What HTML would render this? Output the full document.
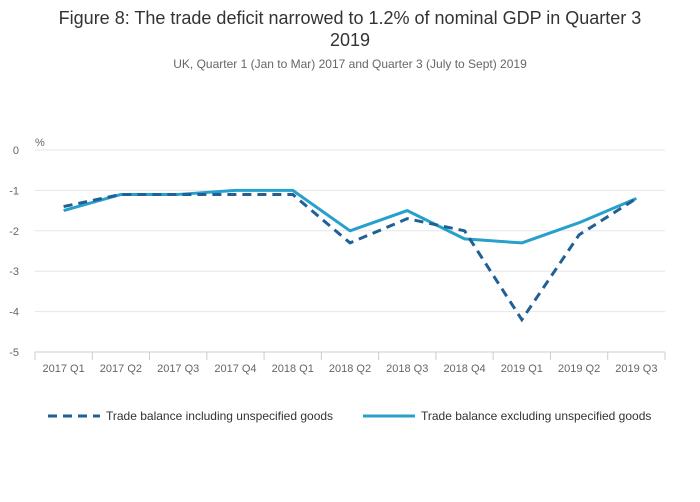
<!DOCTYPE html>
<html><head><meta charset="utf-8"><style>
body{margin:0;background:#fff;font-family:"Liberation Sans",sans-serif;}
svg{display:block}
</style></head><body>
<svg id="chart" width="700" height="502">
<text x="350" y="24" text-anchor="middle" font-size="18" fill="#333">Figure 8: The trade deficit narrowed to 1.2% of nominal GDP in Quarter 3</text>
<text x="350" y="46" text-anchor="middle" font-size="18" fill="#333">2019</text>
<text x="350" y="68" text-anchor="middle" font-size="12" fill="#666">UK, Quarter 1 (Jan to Mar) 2017 and Quarter 3 (July to Sept) 2019</text>
<text x="35" y="146" font-size="11" fill="#666">%</text>
<g id="grid"></g><g id="series"></g>
<g>
<line x1="48" y1="416" x2="100" y2="416" stroke="#206095" stroke-width="3" stroke-dasharray="9,6"/>
<text x="106" y="420" font-size="12" fill="#333">Trade balance including unspecified goods</text>
<line x1="363" y1="416" x2="415" y2="416" stroke="#27a0cc" stroke-width="3"/>
<text x="421" y="420" font-size="12" fill="#333">Trade balance excluding unspecified goods</text>
</g>
</svg>
<script>
const categories=["2017 Q1","2017 Q2","2017 Q3","2017 Q4","2018 Q1","2018 Q2","2018 Q3","2018 Q4","2019 Q1","2019 Q2","2019 Q3"];
const includingValues=[-1.4,-1.1,-1.1,-1.1,-1.1,-2.3,-1.7,-2.0,-4.2,-2.1,-1.2];
const excludingValues=[-1.5,-1.1,-1.1,-1.0,-1.0,-2.0,-1.5,-2.2,-2.3,-1.8,-1.2];
const yTicks=[0,-1,-2,-3,-4,-5];
const NS="http://www.w3.org/2000/svg";
const L=35,R=665,T=150,B=352;
const bw=(R-L)/categories.length;
const x=i=>L+bw*(i+0.5);
const y=v=>T+(0-v)/5*(B-T);
const grid=document.getElementById('grid');
function mk(tag,attrs){const e=document.createElementNS(NS,tag);for(const k in attrs)e.setAttribute(k,attrs[k]);return e;}
yTicks.forEach(t=>{
 const ln=mk('line',{x1:L,x2:R,y1:y(t),y2:y(t),stroke:t===-5?'#ccc':'#e6e6e6'});
 
 
 grid.appendChild(ln);
 const tx=mk('text',{x:19,y:y(t)+4,'font-size':11,fill:'#666','text-anchor':'end'});
 tx.textContent=t;
 
 
 grid.appendChild(tx);
});
categories.forEach((c,i)=>{
 const tk=mk('line',{x1:L+bw*i,x2:L+bw*i,y1:B,y2:B+8,stroke:'#ccc'});
 
 
 grid.appendChild(tk);
 const tx=mk('text',{x:x(i),y:B+20,'font-size':11,fill:'#666','text-anchor':'middle'});
 tx.textContent=c;
 
 
 grid.appendChild(tx);
});
const last=mk('line',{x1:R,x2:R,y1:B,y2:B+8,stroke:'#ccc'});


grid.appendChild(last);
const s=document.getElementById('series');
const p1=mk('polyline',{points:excludingValues.map((v,i)=>x(i)+','+y(v)).join(' '),fill:'none',stroke:'#27a0cc','stroke-width':3,'stroke-linejoin':'round'});


s.appendChild(p1);
const p2=mk('polyline',{points:includingValues.map((v,i)=>x(i)+','+y(v)).join(' '),fill:'none',stroke:'#206095','stroke-width':3,'stroke-dasharray':'9,6'});


s.appendChild(p2);
</script>
</body></html>
